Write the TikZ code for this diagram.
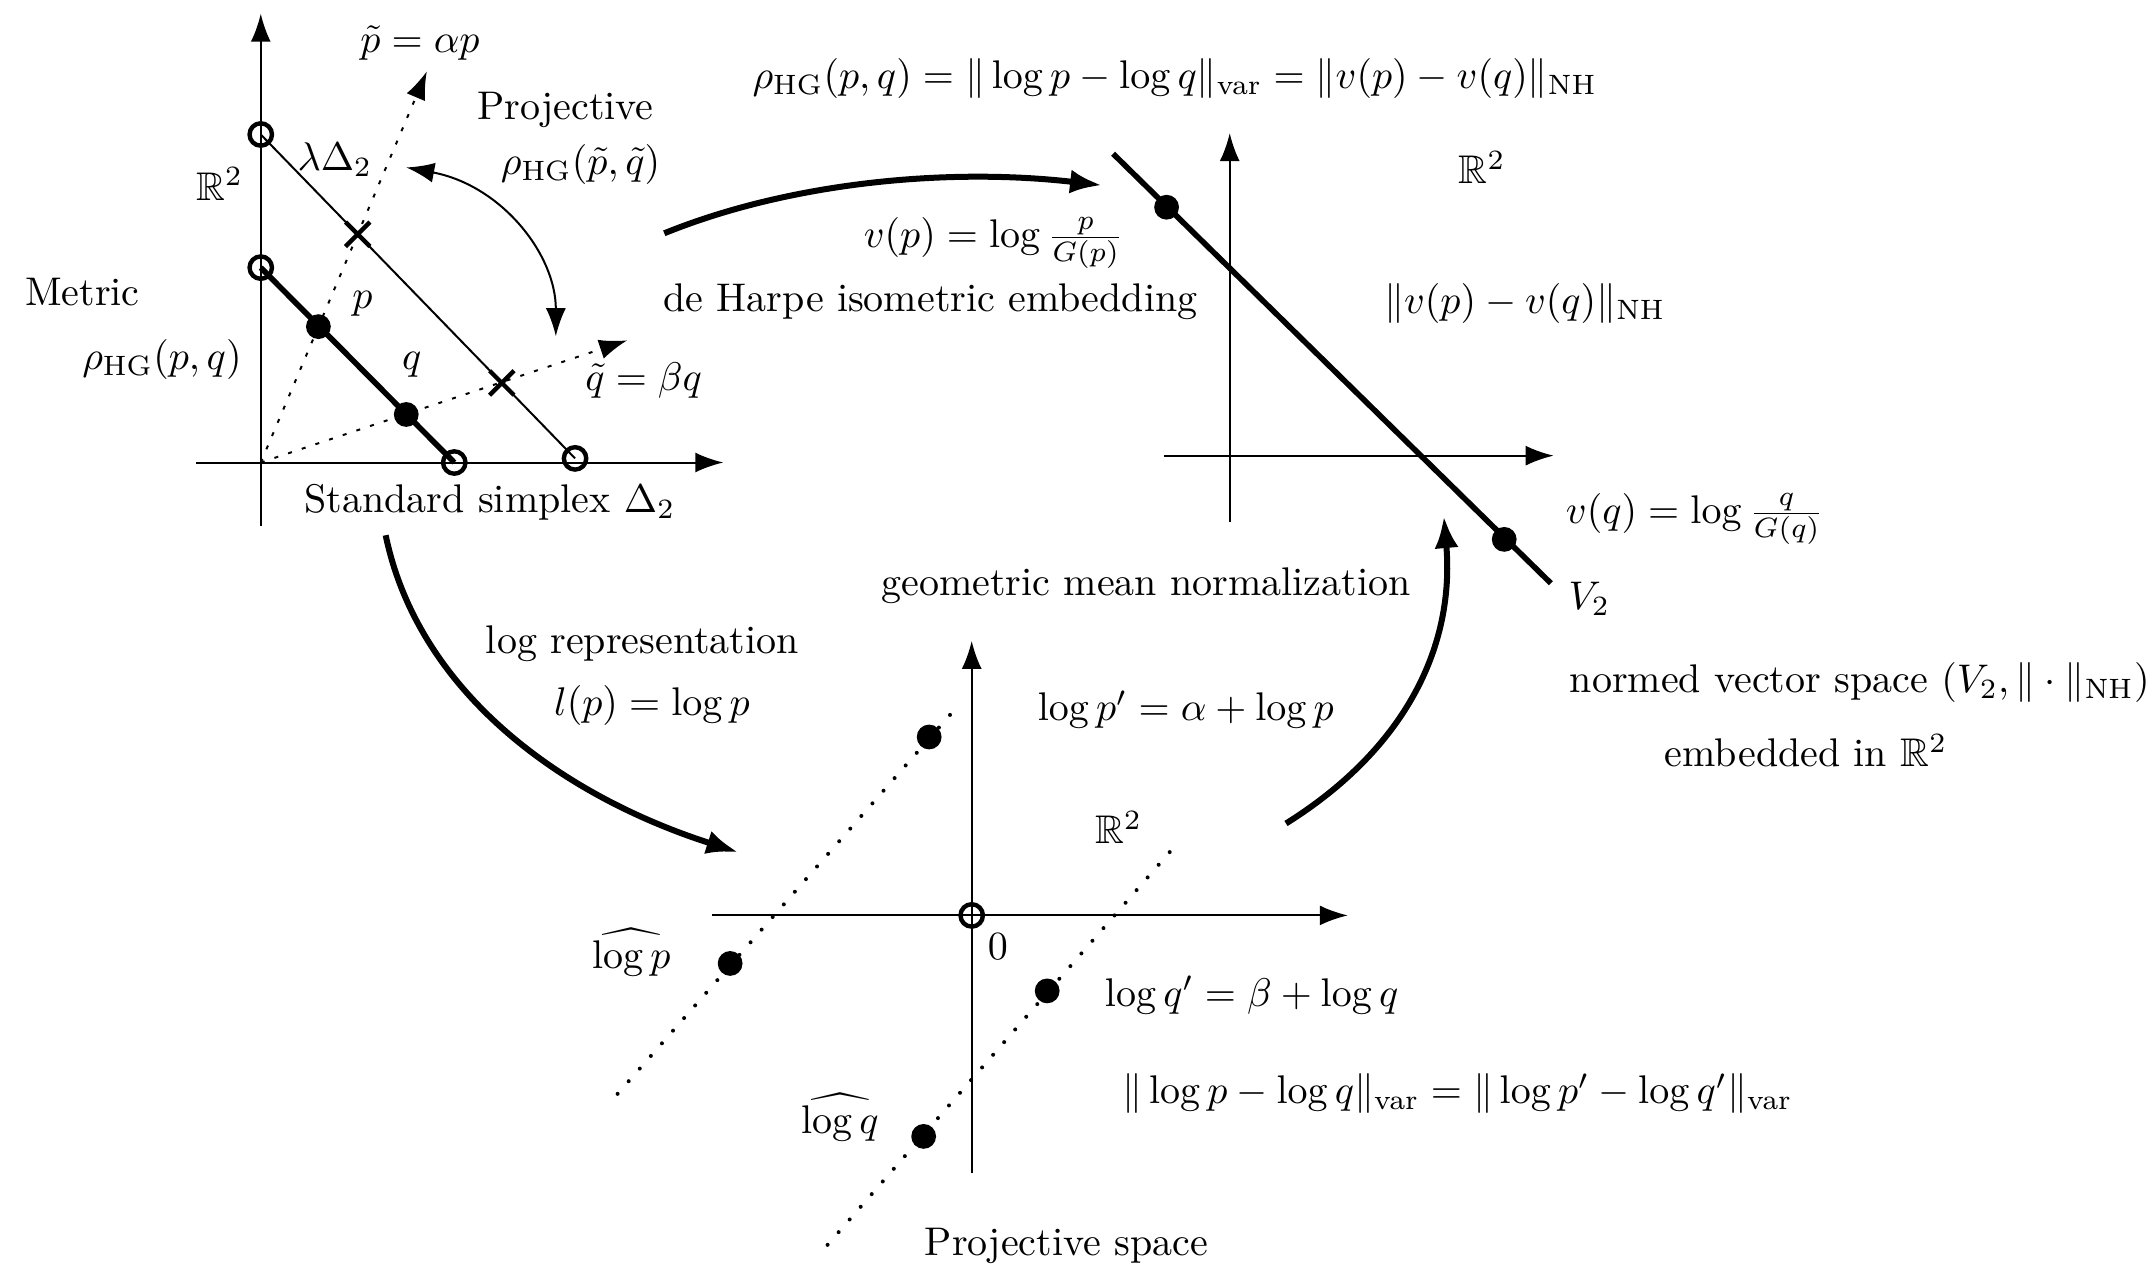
\documentclass[tikz,border=0pt]{standalone}
\usepackage{amsmath,amssymb}
\usetikzlibrary{arrows.meta,shapes.misc}
\begin{document}
\begin{tikzpicture}[x=0.3431pt,y=-0.3431pt,
  axis/.style={line width=0.5pt,-{Latex[length=7pt,width=5pt]}},
  boldarrow/.style={line width=1.5pt,-{Latex[length=8pt,width=6pt]}},
  opendot/.style={circle,draw,line width=1.1pt,inner sep=0pt,minimum size=5.6pt},
  fulldot/.style={circle,fill,inner sep=0pt,minimum size=6.2pt},
  crossmark/.style={cross out,draw,line width=1.1pt,inner sep=0pt,minimum size=5pt},
  raydots/.style={line width=0.5pt,dash pattern=on 1pt off 2.6pt},
  bigdots/.style={line width=1pt,line cap=round,dash pattern=on 0pt off 4.2pt},
  lbl/.style={inner sep=1pt}]
\useasboundingbox (0,0) rectangle (1568,924);

% ---------- left diagram: simplex ----------
\coordinate (O1) at (190,337);
\coordinate (xa1s) at (143,337);
\coordinate (xa1e) at (527,337);
\coordinate (ya1s) at (190,383);
\coordinate (ya1e) at (190,10);
\draw[axis] (xa1s) -- (xa1e);
\draw[axis] (ya1s) -- (ya1e);

\coordinate (tipP) at (311,52);
\coordinate (tipQ) at (457,248);
\draw[raydots,-{Latex[length=7pt,width=5pt]}] (O1) -- (tipP);
\draw[raydots,-{Latex[length=7pt,width=5pt]}] (O1) -- (tipQ);

\node[opendot] (L1) at (190,98) {};
\node[opendot] (L2) at (419,334) {};
\draw[line width=0.5pt] (L1.center) -- (L2.center);
\node[crossmark] (cp) at (260.6,170.7) {};
\node[crossmark] (cq) at (365.6,279) {};

\node[opendot] (S1) at (190,195) {};
\node[opendot] (S2) at (331,337) {};
\draw[line width=1.4pt] (S1.center) -- (S2.center);
\node[fulldot] (p) at (232,238) {};
\node[fulldot] (q) at (296,302) {};

\coordinate (pa) at (296,122);
\coordinate (pb) at (405,245);
\draw[line width=0.5pt,{Latex[length=7pt,width=5pt]}-{Latex[length=7pt,width=5pt]}] (pa) .. controls (365,135) and (405,185) .. (pb);

\node[lbl] (tpe) at (306,31) {$\tilde p = \alpha p$};
\node[lbl] (proj) at (412,80) {Projective};
\node[lbl] (rpq) at (423,120) {$\rho_{\mathrm{HG}}(\tilde p,\tilde q)$};
\node[lbl] (lam) at (244,116) {$\lambda\Delta_2$};
\node[lbl] (R1) at (160,134) {$\mathbb{R}^2$};
\node[lbl] (metric) at (60,213) {Metric};
\node[lbl] (rho) at (118,262) {$\rho_{\mathrm{HG}}(p,q)$};
\node[lbl] (plab) at (264,221) {$p$};
\node[lbl] (qlab) at (300,266) {$q$};
\node[lbl] (tqe) at (469,277) {$\tilde q = \beta q$};
\node[lbl] (std) at (357,366) {Standard simplex $\Delta_2$};

% ---------- top formula ----------
\node[lbl] (top) at (856,57) {$\rho_{\mathrm{HG}}(p,q) = \|\log p - \log q\|_{\mathrm{var}} = \|v(p)-v(q)\|_{\mathrm{NH}}$};

% ---------- de Harpe arrow ----------
\coordinate (dh1) at (484,170);
\coordinate (dh2) at (803,135);
\draw[boldarrow] (dh1) .. controls (575,133) and (690,122) .. (dh2);
\node[lbl] (vp) at (724,177) {$v(p) = \log\frac{p}{G(p)}$};
\node[lbl] (dharpe) at (678,220) {de Harpe isometric embedding};

% ---------- right diagram ----------
\coordinate (xa2s) at (848,332);
\coordinate (xa2e) at (1132,332);
\coordinate (ya2s) at (896,380);
\coordinate (ya2e) at (896,97);
\draw[axis] (xa2s) -- (xa2e);
\draw[axis] (ya2s) -- (ya2e);
\coordinate (V1) at (811,112);
\coordinate (V2e) at (1130,425);
\draw[line width=1.4pt] (V1) -- (V2e);
\node[fulldot] (vpdot) at (850,151) {};
\node[fulldot] (vqdot) at (1096,393) {};
\node[lbl] (R2) at (1080,122) {$\mathbb{R}^2$};
\node[lbl] (nh) at (1111,221) {$\|v(p)-v(q)\|_{\mathrm{NH}}$};
\node[lbl] (vq) at (1235,378) {$v(q) = \log\frac{q}{G(q)}$};
\node[lbl] (V2lab) at (1158,436) {$V_2$};
\node[lbl] (normed) at (1355,497) {normed vector space $(V_2,\|\cdot\|_{\mathrm{NH}})$};
\node[lbl] (emb) at (1316,547) {embedded in $\mathbb{R}^2$};

% ---------- log representation arrow ----------
\coordinate (lr1) at (281,390);
\coordinate (lr2) at (538,621);
\draw[boldarrow] (lr1) .. controls (305,505) and (410,580) .. (lr2);
\node[lbl] (logrep) at (468,469) {log representation};
\node[lbl] (lp) at (475,514) {$l(p) = \log p$};

% ---------- geometric mean arrow ----------
\coordinate (gm1) at (937,600);
\coordinate (gm2) at (1052,376);
\draw[boldarrow] (gm1) .. controls (1025,545) and (1060,470) .. (gm2);
\node[lbl] (geo) at (835,427) {geometric mean normalization};

% ---------- bottom diagram ----------
\coordinate (xa3s) at (519,667);
\coordinate (xa3e) at (982,667);
\coordinate (ya3s) at (708,855);
\coordinate (ya3e) at (708,467);
\draw[axis] (xa3s) -- (xa3e);
\draw[axis] (ya3s) -- (ya3e);
\node[opendot] (zero) at (708,667) {};
\node[lbl] (zlab) at (727,690) {$0$};

\coordinate (d1s) at (450,797);
\coordinate (d1e) at (700,512);
\coordinate (d2s) at (603,907);
\coordinate (d2e) at (853,620);
\draw[bigdots] (d1s) -- (d1e);
\draw[bigdots] (d2s) -- (d2e);
\node[fulldot] (lpp) at (677,537) {};
\node[fulldot] (lph) at (532,702) {};
\node[fulldot] (lqp) at (763,722) {};
\node[fulldot] (lqh) at (673,828) {};

\node[lbl] (lpe) at (864,517) {$\log p' = \alpha + \log p$};
\node[lbl] (R3) at (815,603) {$\mathbb{R}^2$};
\node[lbl] (hp) at (460,694) {$\widehat{\log p}$};
\node[lbl] (lqe) at (912,725) {$\log q' = \beta + \log q$};
\node[lbl] (hq) at (612,814) {$\widehat{\log q}$};
\node[lbl] (vareq) at (1062,797) {$\|\log p - \log q\|_{\mathrm{var}} = \|\log p' - \log q'\|_{\mathrm{var}}$};
\node[lbl] (pspace) at (777,908) {Projective space};
\end{tikzpicture}
\end{document}
